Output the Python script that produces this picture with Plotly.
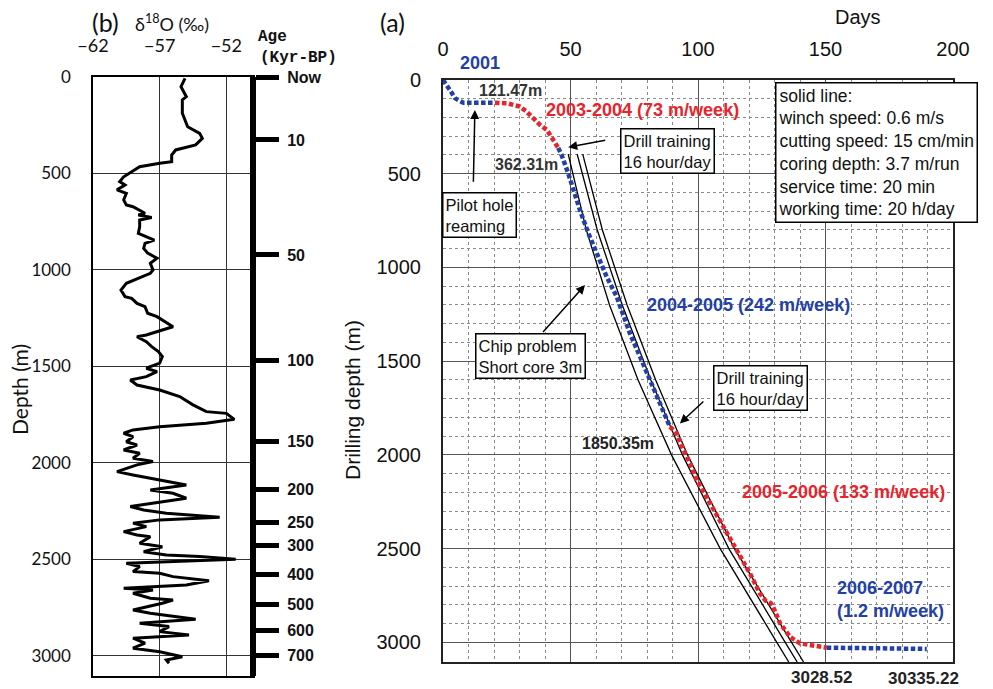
import plotly.graph_objects as go

W, H = 993, 689

# ---------------- Panel (b): delta-18O profile ----------------
d18o_depth = [7, 50, 102, 119, 171, 188, 258, 292, 318, 352, 378, 404, 439, 447, 465, 491, 517, 542, 560,
              585, 603, 637, 663, 672, 706, 715, 728, 741, 776, 810, 827, 845, 862, 888, 913, 939, 965,
              1000, 1017, 1052, 1069, 1104, 1138, 1147, 1173, 1190, 1224, 1242, 1268, 1294, 1311, 1337,
              1346, 1372, 1397, 1423, 1449, 1483, 1509, 1527, 1553, 1570, 1596, 1622, 1656, 1699, 1734,
              1743, 1774, 1794, 1812, 1829, 1846, 1864, 1890, 1907, 1933, 1950, 1976, 1993, 2010, 2045,
              2062, 2079, 2088, 2114, 2140, 2157, 2183, 2209, 2226, 2244, 2261, 2281, 2295, 2312, 2330,
              2356, 2373, 2382, 2416, 2434, 2460, 2477, 2485, 2499, 2511, 2520, 2537, 2563, 2572, 2589,
              2610, 2632, 2649, 2658, 2675, 2701, 2710, 2727, 2762, 2779, 2810, 2831, 2848, 2874, 2891,
              2908, 2934, 2960, 2978, 3004, 3021, 3038]
d18o_value = [-55.1, -55.4, -55.0, -55.3, -55.3, -55.3, -54.9, -54.0, -53.8, -54.3, -55.8, -56.1, -56.1,
              -57.0, -58.5, -59.1, -59.7, -60.0, -59.6, -60.2, -59.5, -59.7, -59.5, -59.0, -58.1, -58.6,
              -57.6, -58.5, -58.5, -58.6, -58.0, -57.4, -58.1, -58.2, -57.9, -57.2, -57.7, -57.5, -57.7,
              -59.0, -59.5, -59.9, -59.6, -59.1, -58.7, -58.1, -57.9, -57.2, -56.6, -56.0, -56.8, -58.0,
              -58.7, -58.0, -57.6, -57.1, -56.8, -57.0, -58.0, -57.2, -58.0, -59.2, -58.7, -57.0, -55.5,
              -54.5, -53.5, -52.0, -51.4, -53.5, -57.0, -59.0, -59.7, -59.0, -59.5, -58.7, -59.7, -58.5,
              -59.0, -57.5, -58.7, -60.2, -59.0, -57.7, -57.0, -55.0, -57.7, -56.0, -55.0, -57.7, -59.2,
              -58.2, -56.5, -52.5, -57.0, -59.0, -58.0, -59.7, -58.7, -57.7, -58.5, -56.8, -58.2, -56.5,
              -54.0, -51.3, -57.0, -59.5, -58.5, -59.0, -57.0, -56.0, -53.3, -55.0, -59.7, -57.5, -59.0,
              -57.7, -56.0, -56.8, -59.0, -57.7, -54.3, -58.5, -56.3, -57.0, -54.8, -59.0, -58.1, -59.0,
              -57.0, -55.3, -56.5, -56.3]
d18o_ticks = [-62, -57, -52]
depth_ticks_b = [0, 500, 1000, 1500, 2000, 2500, 3000]
age_depth = [0, 326, 922, 1470, 1890, 2135, 2309, 2428, 2580, 2732, 2869, 2997]
age_label = ["Now", "10", "50", "100", "150", "200", "250", "300", "400", "500", "600", "700"]

# ---------------- Panel (a): drilling progress ----------------
s2001_days = [0, 1.5, 2.7, 4.7, 6.7, 8.0, 12.0, 16.0, 20.4]
s2001_depth = [0, 25, 53, 97, 115, 121.47, 121.47, 121.47, 121.47]
s2003_days = [20.4, 25.0, 30.2, 32.8, 35.4, 38.0, 40.7, 43.3, 45.2]
s2003_depth = [121.47, 124, 142, 169, 204, 239, 266, 319, 362.31]
s2004_days = [45.2, 46.5, 49.1, 51.1, 53.7, 57.0, 59.6, 60.9, 64.2, 68.1, 70.1, 73.3, 77.3, 81.2, 85.1, 89.0]
s2004_depth = [362.31, 400, 498, 587, 694, 818, 907, 943, 1050, 1156, 1227, 1352, 1477, 1601, 1725, 1850.35]
s2005_days = [89.0, 91.6, 94.0, 96.9, 99.5, 104.7, 109.9, 115.2, 120.4, 124.3, 126.5, 128.5, 129.3,
              132.2, 136.1, 140.0, 143.9, 150.5]
s2005_depth = [1850.35, 1885, 1965, 2046, 2134, 2259, 2384, 2508, 2633, 2740, 2778, 2790, 2806,
               2899, 2971, 3006, 3015, 3028.52]
s2006_days = [150.5, 160, 170, 180, 189.7]
s2006_depth = [3028.52, 3030, 3032, 3033.5, 3035.22]

model_depth = [395, 800, 1200, 1600, 2000, 2500, 3000, 3105]
model_left_days = [49.1, 56.2, 65.3, 76.5, 89.6, 108.7, 130.9, 135.6]
model_mid_days = [52.6, 60.5, 70.3, 81.5, 93.9, 112.1, 134.2, 138.9]
model_right_days = [54.8, 62.5, 72.2, 83.4, 95.9, 114.3, 136.7, 141.4]

day_ticks = [0, 50, 100, 150, 200]
depth_ticks_a = [0, 500, 1000, 1500, 2000, 2500, 3000]

BLUE = "#2340A6"
RED = "#E8232B"
ARIAL = "Liberation Sans, Arial, sans-serif"
CAL = "Lato, Open Sans, sans-serif"
MONO = "Liberation Mono, Courier New, monospace"

fig = go.Figure()

fig.add_trace(go.Scatter(x=d18o_value, y=d18o_depth, xaxis="x", yaxis="y", mode="lines",
                         line=dict(color="black", width=3), showlegend=False, hoverinfo="skip"))
fig.add_trace(go.Scatter(x=[None], y=[None], xaxis="x", yaxis="y3", mode="lines",
                         showlegend=False, hoverinfo="skip"))

for dd in (model_left_days, model_mid_days, model_right_days):
    fig.add_trace(go.Scatter(x=dd, y=model_depth, xaxis="x2", yaxis="y2", mode="lines",
                             line=dict(color="black", width=1.3), showlegend=False))

for dx, dy, col in ((s2001_days, s2001_depth, BLUE), (s2003_days, s2003_depth, RED),
                    (s2004_days, s2004_depth, BLUE), (s2005_days, s2005_depth, RED),
                    (s2006_days, s2006_depth, BLUE)):
    fig.add_trace(go.Scatter(x=dx, y=dy, xaxis="x2", yaxis="y2", mode="lines",
                             line=dict(color=col, width=4.5, dash="4.5px,2.5px"), showlegend=False))


def px(xp):
    return xp / W


def py(yp):
    return 1 - yp / H


ann = []


def ptext(text, x, y, size, family=CAL, color="#111", xanchor="center", yanchor="middle",
          angle=0, box=False):
    a = dict(text=text, x=px(x), y=py(y), xref="paper", yref="paper", showarrow=False,
             font=dict(family=family, size=size, color=color), xanchor=xanchor,
             yanchor=yanchor, textangle=angle, align="left")
    if box:
        a.update(bgcolor="white", bordercolor="black", borderwidth=1.5, borderpad=2)
    ann.append(a)


def arrow(d, m, ad, am):
    ann.append(dict(text="", x=d, y=m, ax=ad, ay=am, xref="x2", yref="y2", axref="x2", ayref="y2",
                    showarrow=True, arrowhead=2, arrowsize=1.2, arrowwidth=1.5, arrowcolor="black"))


# Panel (b) texts
ptext("(b)", 105, 22, 25)
ptext("δ<sup>18</sup>O (‰)", 172, 23, 18)
ptext("<b>Age</b>", 256, 37, 16, family=MONO, xanchor="left")
ptext("<b>(Kyr-BP)</b>", 258, 58, 16, family=MONO, xanchor="left")
ptext("Depth (m)", 19, 390, 21, angle=-90)

# Panel (a) texts
ptext("(a)", 392, 22, 25)
ptext("Days", 858, 17, 20, family=ARIAL)
ptext("Drilling depth (m)", 352, 400, 21, family=ARIAL, angle=-90)

ptext("<b>2001</b>", 480, 63, 18, family=ARIAL, color=BLUE)
ptext("<b>121.47m</b>", 510, 90, 16, family=ARIAL, color="#333")
ptext("<b>2003-2004 (73 m/week)</b>", 642, 110, 18, family=ARIAL, color=RED)
ptext("<b>362.31m</b>", 526, 165, 16, family=ARIAL, color="#333")
ptext("<b>2004-2005 (242 m/week)</b>", 645, 305, 18, family=ARIAL, color=BLUE, xanchor="left")
ptext("<b>1850.35m</b>", 618, 443, 16, family=ARIAL, color="#222")
ptext("<b>2005-2006 (133 m/week)</b>", 740, 492, 18, family=ARIAL, color=RED, xanchor="left")
ptext("<b>2006-2007<br>(1.2 m/week)</b>", 835, 599, 18, family=ARIAL, color=BLUE, xanchor="left")
ptext("<b>3028.52</b>", 821, 677, 17, family=ARIAL, color="#222")
ptext("<b>30335.22</b>", 923, 678, 17, family=ARIAL, color="#222")

ptext("Drill training<br>16 hour/day", 620, 128, 16.5, family=ARIAL, xanchor="left", yanchor="top", box=True)
ptext("Pilot hole<br>reaming", 442, 192, 16.5, family=ARIAL, xanchor="left", yanchor="top", box=True)
ptext("Chip problem<br>Short core 3m", 475, 333, 16.5, family=ARIAL, xanchor="left", yanchor="top", box=True)
ptext("Drill training<br>16 hour/day", 713, 365, 16.5, family=ARIAL, xanchor="left", yanchor="top", box=True)
ptext("solid line:<br>winch speed: 0.6 m/s<br>cutting speed: 15 cm/min<br>coring depth: 3.7 m/run"
      "<br>service time: 20 min<br>working time: 20 h/day", 775, 82, 17.5, family=ARIAL,
      xanchor="left", yanchor="top", box=True)

arrow(49.1, 359, 64.2, 320)
arrow(12.5, 160, 11.9, 551)
arrow(55.7, 1094, 38.7, 1352)
arrow(92.9, 1832, 102.7, 1708)

fig.update_layout(
    width=W, height=H, margin=dict(l=0, r=0, t=0, b=0, autoexpand=False),
    paper_bgcolor="white", plot_bgcolor="white", showlegend=False,
    annotations=ann,
    xaxis=dict(domain=[px(93), px(253)], range=[-62, -50], side="top", anchor="y", automargin=False,
               tickmode="array", tickvals=d18o_ticks, showgrid=True, gridcolor="#333", gridwidth=1,
               showline=True, linecolor="black", linewidth=1.5, mirror=True, ticks="",
               zeroline=False, tickfont=dict(family=CAL, size=18, color="#111"),
               ticklabelstandoff=16),
    yaxis=dict(domain=[py(676), py(77)], range=[3104, 0], anchor="x", tickmode="array", automargin=False,
               tickvals=depth_ticks_b, showgrid=True, gridcolor="#333", gridwidth=1,
               showline=True, linecolor="black", linewidth=1.5, mirror=True, ticks="",
               zeroline=False, tickfont=dict(family=CAL, size=17, color="#111"),
               ticklabelstandoff=17),
    yaxis3=dict(overlaying="y", anchor="free", position=px(253), side="right", range=[3104, 0],
                automargin=False,
                tickmode="array", tickvals=age_depth, ticktext=[f"<b>{t}</b>" for t in age_label],
                ticks="outside", ticklen=23, tickwidth=5, tickcolor="black", showline=True,
                linewidth=6, linecolor="black", showgrid=False, zeroline=False,
                tickfont=dict(family=ARIAL, size=16, color="#111"), ticklabelstandoff=5),
    xaxis2=dict(domain=[px(443), px(953)], range=[0, 200], side="top", anchor="y2", automargin=False,
                tickmode="array", tickvals=day_ticks, showgrid=True, gridcolor="#555", gridwidth=1.3,
                minor=dict(dtick=10, tick0=0, showgrid=True, gridcolor="#8a8a8a", griddash="3px,3px",
                           gridwidth=1),
                showline=True, linecolor="#222", linewidth=2, mirror=True, ticks="", zeroline=False,
                tickfont=dict(family=ARIAL, size=20, color="#111"), ticklabelstandoff=14),
    yaxis2=dict(domain=[py(662), py(80)], range=[3105, 0], anchor="x2", tickmode="array", automargin=False,
                tickvals=depth_ticks_a, showgrid=True, gridcolor="#555", gridwidth=1.3,
                minor=dict(dtick=100, tick0=0, showgrid=True, gridcolor="#8a8a8a", griddash="3px,3px",
                           gridwidth=1),
                showline=True, linecolor="#222", linewidth=2, mirror=True, ticks="", zeroline=False,
                tickfont=dict(family=ARIAL, size=20, color="#111"), ticklabelstandoff=16),
)

fig.write_html("out.html", config={"displayModeBar": False},
               post_script="document.body.style.margin='0';document.body.style.overflow='hidden';")
